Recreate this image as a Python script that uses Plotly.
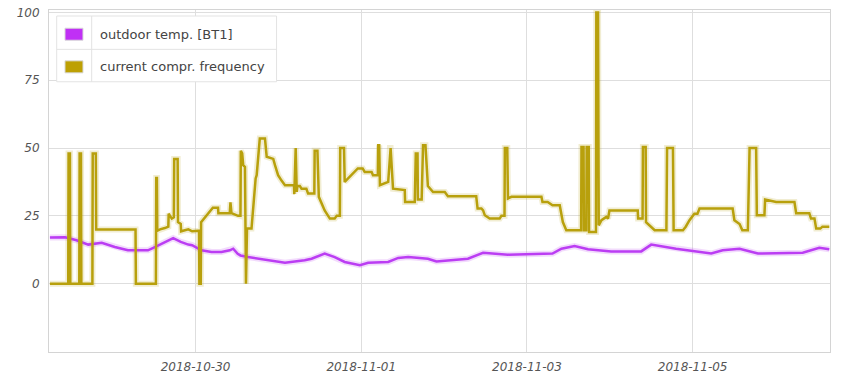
import pandas as pd
import plotly.graph_objects as go

# ---------------- data ----------------
BASE = "2018-10-28 00:00"  # hours below are measured from this moment

freq_hours = [5.8, 11.1, 11.2, 11.6, 11.7,
              14.3, 14.4, 14.8, 14.9,
              18.1, 18.2, 19.1, 19.2,
              30.6, 30.7,
              36.5, 36.6, 36.8, 36.9, 37.7, 39.1, 40.1, 40.2, 41.1, 41.7, 41.8, 42.8, 42.9, 43.7, 43.8,
              45.9, 47.0, 48.8, 49.0, 49.1, 49.5, 49.6, 51.6, 53.0, 54.5, 54.6, 57.9, 58.1, 58.4, 60.3,
              61.0, 61.1, 61.5, 61.8, 62.3, 62.6, 62.9, 64.2, 65.4, 65.7, 66.6, 68.1, 68.6, 70.5, 71.0,
              71.9, 72.9, 73.9, 76.5, 76.6, 77.0, 77.3, 77.5, 78.2, 78.7, 80.1, 80.6, 82.4, 82.5, 83.3,
              83.7, 84.9, 85.4, 86.9, 88.3, 88.9, 89.8, 89.9, 91.0, 91.2, 93.2, 95.0, 96.4, 97.0, 99.0,
              99.4, 100.8, 100.9, 101.2, 101.4, 103.8, 104.3, 104.5, 105.2, 108.6, 108.7, 111.5, 111.8,
              112.3, 112.4, 113.5, 113.9, 114.6, 115.3, 116.8, 120.2, 120.7, 121.1, 129.3, 129.7, 130.8,
              131.3, 131.8, 133.2, 136.1, 136.6, 137.5, 137.6, 138.3, 138.5, 139.5, 148.2, 148.5, 150.0,
              151.4, 153.5, 154.4, 155.4, 159.7, 159.8, 160.4, 160.5, 161.2, 161.3, 161.9, 162.0, 164.0,
              164.1, 164.6, 164.8, 165.6, 167.0, 167.5, 167.9, 172.3, 176.1, 176.2, 177.5, 177.6, 178.4,
              178.5, 180.0, 181.0, 184.4, 184.6, 186.3, 186.5, 189.2, 190.0, 191.1, 192.5, 193.4, 194.0,
              203.6, 204.1, 205.6, 206.4, 208.0, 208.5, 210.4, 210.6, 212.8, 213.0, 216.2, 221.5, 222.0,
              225.8, 226.3, 227.3, 227.8, 229.0, 229.6, 231.6]
freq_values = [0, 0, 48, 48, 0,
               0, 48, 48, 0,
               0, 48, 48, 20,
               20, 0,
               0, 39, 39, 19.5, 20, 20.5, 21, 25.8, 24, 24.5, 46, 46, 22.7, 22, 19.3,
               20, 19.3, 19.5, 19.5, 0, 0, 22.7, 26, 28, 28, 26, 26, 30, 26, 25,
               25, 49, 48, 43.7, 43, 0, 20.3, 20.3, 38.8, 40, 53.5, 53.5, 46.8, 46, 43.7,
               40, 38, 36.3, 36.3, 33, 50, 33.8, 36, 36, 35, 35, 33.2, 33.2, 49, 49,
               32, 28.9, 27, 24, 24, 25, 25, 50, 50, 37.5, 40, 42.5, 42.5, 41.2, 41.2,
               40, 40, 51, 51, 36.3, 37.5, 50, 50, 35, 34.5, 30.1, 30.1, 48,
               48, 31, 31, 51, 51, 36, 33.8, 33.8, 32.6, 32.2, 32.2, 27.7, 27.7,
               27, 25.2, 24, 24, 25, 25, 50, 50, 31.4, 32, 32, 30.1, 30.1,
               28.9, 28.9, 22.7, 19.7, 19.7, 50.4, 50.4, 19.7, 19.7, 50.4, 50.4, 19, 19,
               100, 100, 21.5, 23.4, 24.6, 24, 27, 27, 27, 24, 24, 50.4, 50.4,
               22.7, 21, 19.7, 19.7, 50, 50, 19.7, 19.7, 21, 23.4, 25.8, 25.8, 27.7,
               27.7, 23.4, 22, 19.7, 19.7, 50, 50, 25.2, 25.2, 31, 30.1, 30.1, 26,
               26, 24, 24, 20.3, 20.3, 21, 21]

temp_hours = [5.8, 10.2, 13.5, 16.9, 20.8, 24.6, 28.4, 34.2, 36.2, 39.1, 41.5, 43.7, 45.9, 47.0,
              49.7, 52.6, 55.5, 57.9, 58.9, 60.2, 61.0, 63.2, 69.0, 73.9, 79.6, 81.6, 85.4, 88.3,
              91.2, 95.6, 98.0, 103.8, 106.7, 109.6, 115.3, 117.8, 126.9, 131.3, 138.5, 151.4,
              154.0, 157.8, 161.7, 168.4, 177.1, 180.0, 187.2, 193.4, 197.4, 200.7, 205.6, 210.9,
              223.9, 228.7, 231.6]
temp_values = [17, 17.1, 16, 14.4, 15.1, 13.5, 12.3, 12.3, 13.5, 15.4, 16.8, 15.4, 14.4, 14.2,
               12.3, 11.7, 11.7, 12.3, 12.9, 11, 10.4, 9.8, 8.6, 7.7, 8.6, 9.2, 11.1, 9.8,
               8, 6.8, 7.7, 8, 9.5, 9.8, 9.2, 8.2, 9.2, 11.4, 10.7, 11.1,
               12.9, 13.9, 12.7, 11.9, 11.9, 14.4, 12.9, 11.9, 11.1, 12.3, 12.9, 11.1,
               11.4, 13.2, 12.7]

series_names = ["outdoor temp. [BT1]", "current compr. frequency"]
y_ticks = [0, 25, 50, 75, 100]
x_range_hours = [5.53, 231.8]
x_tick_start = "2018-10-30"

# ---------------- styling ----------------
PURPLE = "#BB3DF3"
PURPLE_SW = "#C030F5"
GOLD = "#B8A00C"
GOLD_SW = "#BDA004"
GRID = "#dedede"
OFF = 8                      # the page body margin shifts the figure by 8px
W, H = 850 - OFF, 375 - OFF
ML, MR, MT, MB = 49 - OFF, 19.5, 10 - OFF, 23.3

base = pd.Timestamp(BASE)
def to_time(hours):
    return base + pd.to_timedelta(hours, unit="h")

fig = go.Figure()
# soft glow under the lines
fig.add_trace(go.Scatter(x=to_time(temp_hours), y=temp_values, mode="lines",
                         line=dict(color=PURPLE, width=6), opacity=0.18,
                         hoverinfo="skip", showlegend=False))
fig.add_trace(go.Scatter(x=to_time(freq_hours), y=freq_values, mode="lines",
                         line=dict(color=GOLD, width=6), opacity=0.18,
                         hoverinfo="skip", showlegend=False))
fig.add_trace(go.Scatter(x=to_time(temp_hours), y=temp_values, mode="lines",
                         name=series_names[0], line=dict(color=PURPLE, width=2.5)))
fig.add_trace(go.Scatter(x=to_time(freq_hours), y=freq_values, mode="lines",
                         name=series_names[1], line=dict(color=GOLD, width=2.5)))

tick_font = dict(family="DejaVu Sans", size=12, color="#555555", style="italic")
fig.update_layout(
    width=W, height=H,
    margin=dict(l=ML, r=MR, t=MT, b=MB, pad=0, autoexpand=False),
    paper_bgcolor="white", plot_bgcolor="white",
    showlegend=False,
    xaxis=dict(type="date", range=[to_time(x_range_hours[0]), to_time(x_range_hours[1])],
               tick0=x_tick_start, dtick=2 * 86400000, tickformat="%Y-%m-%d",
               showgrid=True, gridcolor=GRID, gridwidth=1, automargin=False,
               showline=True, linecolor="#d4d4d4", linewidth=1, mirror=True,
               zeroline=False, ticks="", tickfont=tick_font, ticklabelstandoff=4,
               ticklabeloverflow="allow"),
    yaxis=dict(range=[-25.2, 100.9], tickvals=y_ticks, automargin=False,
               showgrid=True, gridcolor=GRID, gridwidth=1,
               showline=True, linecolor="#d4d4d4", linewidth=1, mirror=True,
               zeroline=False, ticks="", tickfont=tick_font, ticklabelstandoff=6,
               ticklabeloverflow="allow"),
)

# ---------------- custom table-like legend ----------------
PW = W - ML - MR
PH = H - MT - MB
def px(x):  # page pixel -> paper fraction
    return (x - OFF - ML) / PW
def py(y):
    return 1 - (y - OFF - MT) / PH

shapes = []
lx0, lx1, ly0, ly1, ldiv, lrow = 56.7, 276.7, 16, 81.7, 91.7, 49.3
shapes.append(dict(type="rect", xref="paper", yref="paper",
                   x0=px(lx0), x1=px(lx1), y0=py(ly1), y1=py(ly0),
                   fillcolor="white", line=dict(color="#e3e3e3", width=1), layer="above"))
shapes.append(dict(type="line", xref="paper", yref="paper",
                   x0=px(lx0), x1=px(lx1), y0=py(lrow), y1=py(lrow),
                   line=dict(color="#e3e3e3", width=1), layer="above"))
shapes.append(dict(type="line", xref="paper", yref="paper",
                   x0=px(ldiv), x1=px(ldiv), y0=py(ly0), y1=py(ly1),
                   line=dict(color="#e3e3e3", width=1), layer="above"))
annotations = []
for name, col, yc in [(series_names[0], PURPLE_SW, 34.2), (series_names[1], GOLD_SW, 66.8)]:
    shapes.append(dict(type="rect", xref="paper", yref="paper",
                       x0=px(65), x1=px(83), y0=py(yc + 6), y1=py(yc - 6),
                       fillcolor=col, line=dict(color="#d8d8d8", width=1), layer="above"))
    annotations.append(dict(xref="paper", yref="paper", x=px(98), y=py(yc),
                            xanchor="left", yanchor="middle", showarrow=False,
                            text=name, font=dict(family="DejaVu Sans", size=13, color="#444444")))
fig.update_layout(shapes=shapes, annotations=annotations)

fig.write_html("out.html")
